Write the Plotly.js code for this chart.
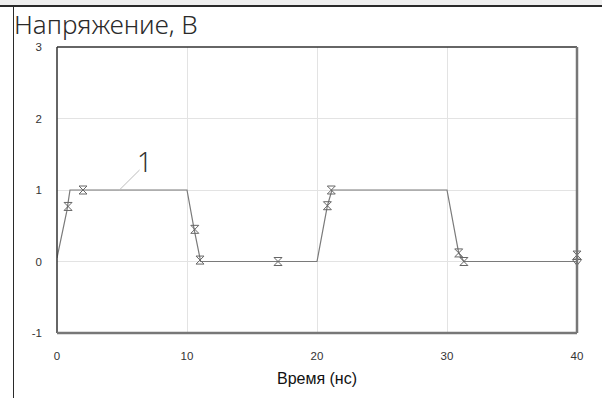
<!DOCTYPE html>
<html>
<head>
<meta charset="utf-8">
<script src="https://cdn.plot.ly/plotly-3.0.1.min.js"></script>
<style>
html,body{margin:0;padding:0;background:#fff;}
#wrap{position:relative;width:602px;height:398px;overflow:hidden;}
#chart{position:absolute;left:0;top:0;width:602px;height:398px;}
#topbar{position:absolute;left:0;top:0;width:602px;height:5px;background:#efefef;border-bottom:2px solid #2a2a2a;z-index:5;}
#leftline{position:absolute;left:13px;top:6px;width:1px;height:392px;background:#2a2a2a;z-index:5;}
</style>
</head>
<body>
<div id="wrap">
<div id="chart"></div>
<div id="topbar"></div>
<div id="leftline"></div>
</div>
<script>
// Signal trace (time in ns, voltage in V)
const timeNs = [0, 0.75, 1.0, 10, 10.55, 11.05, 20, 20.8, 21.15, 30, 30.9, 31.3, 40];
const voltage = [0.05, 0.7, 1.0, 1.0, 0.45, 0, 0, 0.78, 1.0, 1.0, 0.12, 0, 0];
// Marker points
const markTime = [0.85, 2.0, 10.6, 11.0, 17.0, 20.8, 21.1, 30.9, 31.3, 40, 40];
const markVolt = [0.77, 1.0, 0.45, 0.02, 0.0, 0.78, 1.0, 0.12, 0.0, 0.09, 0.0];
const markSym = ['hourglass-open','hourglass-open','hourglass-open','hourglass-open','hourglass-open','hourglass-open','hourglass-open','hourglass-open','hourglass-open','hourglass-open','triangle-down-open'];
const xTicks = [0, 10, 20, 30, 40];
const yTicks = [-1, 0, 1, 2, 3];
const seriesLabel = '1';
const labelPos = [6.75, 1.4];
const leader = [[4.8, 1.0], [6.35, 1.28]];

const traces = [
  {x: timeNs, y: voltage, mode: 'lines', type: 'scatter',
   line: {color: '#7a7a7a', width: 1.2}, hoverinfo: 'skip', cliponaxis: false},
  {x: markTime, y: markVolt, mode: 'markers', type: 'scatter',
   marker: {symbol: markSym, size: 8, color: '#666', line: {color: '#666', width: 1}},
   cliponaxis: false}
];

const layout = {
  width: 602, height: 398,
  margin: {l: 57, r: 25, t: 47, b: 65},
  paper_bgcolor: 'rgba(0,0,0,0)', plot_bgcolor: '#fff',
  showlegend: false,
  font: {family: 'Liberation Sans, Arial, sans-serif', color: '#333', size: 11},
  title: {text: 'Напряжение, В', x: 14/602, xanchor: 'left', xref: 'container',
          y: 1 - 25/398, yref: 'container', yanchor: 'middle',
          font: {family: 'Noto Sans, Open Sans, sans-serif', size: 26, weight: 300, color: '#2a2a2a'}},
  xaxis: {range: [0, 40], tickvals: xTicks, ticktext: xTicks.map(String), showgrid: true,
          gridcolor: '#e3e3e3', gridwidth: 1, zeroline: false, showline: false, ticks: '',
          ticklabelstandoff: 14, tickfont: {size: 11.5, color: '#333'},
          title: {text: 'Время (нс)', standoff: 12, font: {family: 'Liberation Sans, Arial, sans-serif', size: 16, color: '#111'}}},
  yaxis: {range: [-1, 3], tickvals: yTicks, ticktext: yTicks.map(String), showgrid: true,
          gridcolor: '#e3e3e3', gridwidth: 1, zeroline: false, showline: false, ticks: '',
          ticklabelstandoff: 14, tickfont: {size: 11.5, color: '#333'}},
  shapes: [
    {type: 'line', xref: 'x', yref: 'y', x0: leader[0][0], y0: leader[0][1], x1: leader[1][0], y1: leader[1][1],
     line: {color: '#bdbdbd', width: 1}},
    {type: 'line', xref: 'paper', yref: 'paper', x0: 0, y0: 1, x1: 1, y1: 1, line: {color: '#333', width: 1.5}},
    {type: 'line', xref: 'paper', yref: 'paper', x0: 0, y0: 0, x1: 0, y1: 1, line: {color: '#333', width: 1.5}},
    {type: 'line', xref: 'paper', yref: 'paper', x0: 1, y0: 0, x1: 1, y1: 1, line: {color: '#777', width: 2.5}},
    {type: 'line', xref: 'paper', yref: 'paper', x0: 0, y0: 0, x1: 1, y1: 0, line: {color: '#777', width: 2.5}}
  ],
  annotations: [
    {x: labelPos[0], y: labelPos[1], xref: 'x', yref: 'y', text: seriesLabel, showarrow: false,
     font: {family: 'Noto Sans, Open Sans, sans-serif', size: 27, weight: 300, color: '#333'}}
  ]
};

Plotly.newPlot('chart', traces, layout, {displayModeBar: false, staticPlot: true});
</script>
</body>
</html>
